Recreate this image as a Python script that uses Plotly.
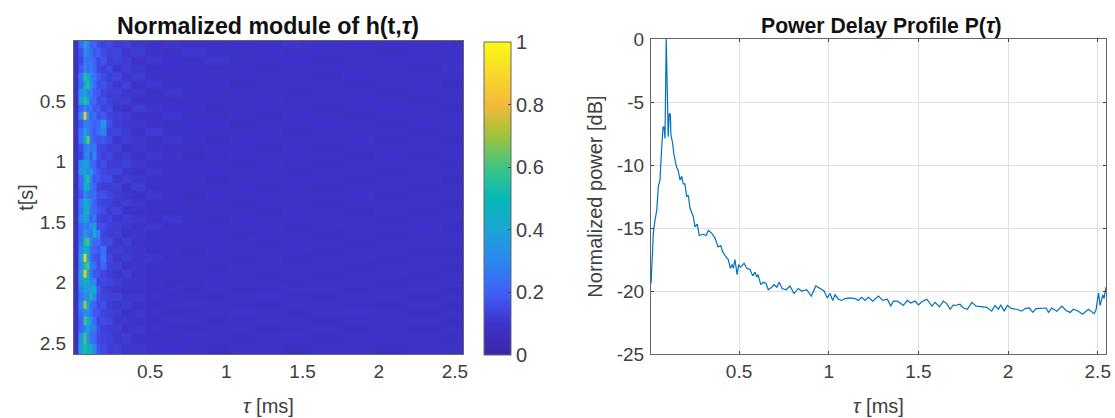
import plotly.graph_objects as go

# ---- heat map: tau [ms], t [s], module in percent of the maximum
tau_h = [0.01,0.05,0.07,0.09,0.11,0.13,0.16,0.19,0.23,0.28,0.34,0.42,0.52,0.64,0.78,0.94,1.1,1.28,1.46,1.66,1.86,2.08,2.3,2.52]
t_h = [0.02,0.105,0.17,0.235,0.30,0.365,0.43,0.495,0.56,0.625,0.69,0.755,0.82,0.885,0.95,1.015,1.08,1.145,1.21,1.275,1.34,1.405,1.47,1.535,1.60,1.665,1.73,1.795,1.86,1.925,1.99,2.055,2.12,2.185,2.25,2.315,2.38,2.445,2.56]
h_pct = [
[10,22,38,30,20,22,16,14,15,12,13,11,10,11,9,10,10,9,11,9,10,10,9,10],
[9,17,32,27,24,18,20,15,13,14,11,12,10,9,11,10,9,10,9,10,9,8,10,9],
[8,15,28,24,26,20,15,17,12,13,12,10,11,10,9,11,9,9,10,8,9,10,9,9],
[8,18,30,22,28,22,14,13,15,11,12,11,9,10,10,9,10,8,9,10,9,9,8,10],
[9,26,55,44,30,26,18,15,13,14,11,12,10,9,10,9,9,10,9,8,10,9,9,9],
[8,22,48,55,34,24,16,17,14,11,13,10,11,10,9,10,8,9,10,9,8,9,10,8],
[9,32,40,28,30,20,18,14,12,13,11,11,9,11,10,9,10,9,8,9,9,8,9,9],
[8,38,55,42,24,22,15,16,13,12,12,10,10,9,9,10,9,10,9,9,10,9,8,9],
[8,20,30,24,26,17,19,14,15,11,10,12,11,10,10,8,9,9,9,8,9,10,9,8],
[8,30,82,35,20,24,16,18,14,13,12,10,9,11,9,9,10,8,10,9,8,9,9,9],
[8,18,30,26,24,20,22,34,16,12,11,11,10,9,10,10,8,9,9,10,9,8,10,9],
[9,24,40,28,22,18,24,28,13,14,12,10,12,10,9,9,9,10,8,9,9,9,8,9],
[8,26,44,65,26,19,17,18,15,11,12,11,9,11,10,8,10,9,9,9,10,8,9,8],
[8,16,26,30,25,27,15,14,12,13,10,11,10,9,9,10,9,8,10,8,9,9,9,9],
[9,14,28,30,18,30,16,13,14,11,12,10,11,10,8,9,10,9,9,9,8,10,8,9],
[9,32,40,36,24,20,14,16,12,12,13,11,9,9,10,9,8,10,9,8,9,9,9,8],
[8,34,42,30,36,22,17,14,13,14,11,10,11,10,9,10,9,9,8,10,9,8,9,9],
[8,24,38,55,30,18,19,15,15,11,12,11,10,9,10,8,9,9,10,9,8,9,10,8],
[8,22,46,50,26,21,14,13,12,13,10,12,9,10,9,9,10,8,9,8,9,9,8,9],
[9,18,30,26,22,24,16,17,14,12,11,10,11,9,8,10,9,9,9,9,10,8,9,9],
[8,28,45,42,28,20,15,14,13,11,12,11,10,10,9,9,8,10,9,8,9,9,9,8],
[8,26,40,46,24,22,18,15,12,14,10,10,9,9,10,9,9,8,10,9,8,10,8,9],
[9,30,45,34,20,26,14,13,14,11,12,11,10,11,9,8,10,9,9,9,9,8,9,9],
[8,22,30,24,32,36,16,16,13,12,11,10,11,9,9,10,9,9,8,10,9,9,10,8],
[8,24,35,30,24,40,28,14,12,13,10,11,9,10,10,9,8,10,9,8,9,8,9,9],
[9,26,55,60,30,22,22,15,15,11,12,10,10,9,9,9,10,8,9,9,8,9,9,9],
[8,30,50,42,24,20,18,24,12,12,11,11,9,10,8,10,9,9,10,8,9,9,8,8],
[8,38,85,48,22,18,16,26,14,11,12,10,11,9,9,9,8,10,8,9,10,8,9,9],
[8,32,55,60,28,24,15,20,13,13,10,11,10,10,9,8,9,9,9,9,8,9,9,8],
[9,40,80,52,26,18,17,14,12,11,12,10,9,9,10,9,10,8,9,8,9,10,8,9],
[8,36,50,40,30,30,14,15,14,12,11,11,10,8,9,10,9,9,8,9,9,8,9,9],
[8,28,40,34,38,46,18,13,12,11,10,10,9,10,8,9,8,9,10,9,8,9,9,8],
[9,24,35,30,52,30,16,14,13,13,11,11,10,9,9,8,9,10,9,8,9,9,8,9],
[9,30,70,46,24,20,15,16,12,11,12,10,9,9,10,9,9,8,9,9,9,8,9,8],
[8,24,35,30,26,18,17,14,13,12,10,11,10,8,9,9,10,9,8,9,10,9,8,9],
[9,20,60,48,36,22,14,15,14,11,11,10,9,10,9,8,9,9,9,8,9,9,9,8],
[8,22,30,40,28,26,16,13,12,12,10,11,10,9,8,9,9,8,9,9,8,9,8,9],
[9,36,60,34,26,22,15,14,13,11,12,10,9,9,10,9,8,9,10,8,9,9,9,8],
[9,38,55,50,42,30,17,15,12,13,11,11,10,10,9,8,9,9,8,9,9,8,9,9],
]

# ---- power delay profile
tau_p = [0.0095,0.022,0.031,0.041,0.05,0.059,0.068,0.076,0.082,0.087,0.094,0.105,0.111,0.117,0.12,0.13,0.137,0.152,0.16,0.171,0.18,0.189,0.198,0.208,0.217,0.226,0.245,0.254,0.267,0.278,0.299,0.316,0.329,0.347,0.366,0.383,0.398,0.409,0.427,0.44,0.451,0.461,0.468,0.477,0.489,0.498,0.509,0.528,0.543,0.561,0.576,0.589,0.598,0.606,0.621,0.635,0.65,0.663,0.682,0.695,0.71,0.724,0.74,0.762,0.784,0.806,0.83,0.849,0.877,0.903,0.928,0.95,0.974,0.992,1.007,1.022,1.035,1.054,1.072,1.09,1.118,1.147,1.165,1.184,1.203,1.221,1.245,1.277,1.301,1.327,1.346,1.36,1.383,1.398,1.416,1.438,1.457,1.481,1.5,1.519,1.547,1.575,1.593,1.617,1.639,1.658,1.677,1.695,1.705,1.732,1.751,1.773,1.798,1.822,1.853,1.881,1.909,1.927,1.946,1.959,1.978,1.996,2.02,2.048,2.076,2.095,2.119,2.138,2.156,2.188,2.212,2.225,2.244,2.272,2.3,2.323,2.346,2.364,2.392,2.415,2.448,2.48,2.491,2.504,2.513,2.528,2.535,2.546]
p_db = [-19.4,-15.4,-14.4,-13.6,-11.7,-11.2,-8.8,-7.0,-7.0,-7.9,0.0,-7.75,-5.9,-6.0,-7.6,-8.3,-9.2,-10.2,-10.4,-11.2,-10.9,-11.5,-11.5,-12.5,-12.4,-13.4,-14.1,-14.9,-14.7,-15.6,-15.5,-15.6,-15.2,-15.4,-15.8,-16.5,-16.4,-16.9,-17.3,-17.5,-18.2,-17.9,-18.2,-17.5,-18.7,-17.9,-18.1,-17.8,-18.2,-18.3,-18.8,-18.5,-18.9,-18.7,-19.5,-19.3,-19.4,-19.9,-19.7,-19.5,-19.7,-19.3,-19.8,-19.9,-19.6,-20.2,-19.8,-20.0,-19.9,-20.4,-19.6,-19.8,-20.0,-20.55,-20.2,-20.75,-20.3,-20.65,-20.75,-20.6,-20.55,-20.6,-20.75,-20.5,-20.75,-20.5,-20.8,-20.4,-20.75,-20.65,-21.2,-20.8,-20.8,-20.95,-21.15,-20.75,-20.95,-20.8,-21.1,-20.85,-20.65,-21.2,-20.9,-21.25,-20.8,-21.0,-21.45,-21.1,-21.15,-21.05,-21.35,-21.45,-20.9,-21.2,-21.25,-21.3,-21.6,-21.15,-21.45,-21.1,-21.6,-21.15,-21.4,-21.45,-21.6,-21.4,-21.35,-21.7,-21.4,-21.4,-21.35,-21.7,-21.35,-21.6,-21.2,-21.55,-21.7,-21.45,-21.6,-21.85,-21.45,-21.8,-21.45,-20.15,-21.15,-20.3,-20.6,-19.7]

# ---- ticks
tau_ticks = [0.5, 1, 1.5, 2, 2.5]
tau_labels = ["0.5", "1", "1.5", "2", "2.5"]
t_ticks = [0.5, 1, 1.5, 2, 2.5]
t_labels = ["0.5", "1", "1.5", "2", "2.5"]
db_ticks = [0, -5, -10, -15, -20, -25]
db_labels = ["0", "-5", "-10", "-15", "-20", "-25"]
cb_ticks = [0, 0.2, 0.4, 0.6, 0.8, 1]
cb_labels = ["0", "0.2", "0.4", "0.6", "0.8", "1"]

W, H = 1115, 418
FONT = "Liberation Sans"
INK = "#404040"
parula = [[0, "#3e26a8"], [0.1, "#3d33cc"], [0.2, "#4060f8"], [0.3, "#2b88f0"], [0.4, "#1aa5d5"],
          [0.5, "#05b8b8"], [0.6, "#3ec486"], [0.7, "#a0c23c"], [0.8, "#f6b93a"], [0.9, "#f8d82a"], [1, "#f9fb15"]]

z = [[v / 100 for v in row] for row in h_pct]

fig = go.Figure()
fig.add_trace(go.Heatmap(
    x=tau_h, y=t_h, z=z, zmin=0, zmax=1, colorscale=parula, xaxis="x", yaxis="y",
    colorbar=dict(x=484/W, xanchor="left", y=(H-355)/H, yanchor="bottom", yref="paper", len=313/H, lenmode="fraction",
                  thickness=27, thicknessmode="pixels", xpad=0, ypad=0, outlinewidth=1, outlinecolor="#666666",
                  ticks="inside", ticklen=3, tickwidth=1, tickcolor=INK, tickvals=cb_ticks, ticktext=cb_labels,
                  tickfont=dict(size=20, color=INK, family=FONT)),
))
fig.add_trace(go.Scatter(x=tau_p, y=p_db, mode="lines", line=dict(color="#0072BD", width=1.2), xaxis="x2", yaxis="y2",
                         showlegend=False))

common = dict(showline=True, linecolor="#666666", linewidth=1, mirror="ticks", ticks="inside", ticklen=3, tickwidth=1,
              tickcolor="#404040", zeroline=False, automargin=False, tickfont=dict(size=19, color=INK, family=FONT))
fig.update_layout(
    width=W, height=H, margin=dict(l=0, r=0, t=0, b=0, autoexpand=False), paper_bgcolor="white", plot_bgcolor="white",
    showlegend=False, font=dict(family=FONT, color=INK),
    xaxis=dict(domain=[74/W, 463/W], range=[0.0, 2.553], tickvals=tau_ticks, ticktext=tau_labels, showgrid=False,
               title=dict(text="<i>τ</i> [ms]", font=dict(size=20, color=INK), standoff=18), **common),
    yaxis=dict(domain=[1-354/H, 1-41/H], range=[2.59, 0.004], tickvals=t_ticks, ticktext=t_labels, showgrid=False,
               ticklabelstandoff=3,
               title=dict(text="t[s]", font=dict(size=20, color=INK), standoff=0), **common),
    xaxis2=dict(domain=[651/W, 1106/W], range=[0.009, 2.546], tickvals=tau_ticks, ticktext=tau_labels, anchor="y2",
                showgrid=True, gridcolor="#dfdfdf", gridwidth=1,
                title=dict(text="<i>τ</i> [ms]", font=dict(size=20, color=INK), standoff=18), **common),
    yaxis2=dict(domain=[1-354/H, 1-39/H], range=[-25, 0], tickvals=db_ticks, ticktext=db_labels, anchor="x2",
                showgrid=True, gridcolor="#dfdfdf", gridwidth=1, ticklabelstandoff=2,
                title=dict(text="Normalized power [dB]", font=dict(size=20, color=INK), standoff=8), **common),
    annotations=[
        dict(text="<b>Normalized module of h(t,<i>τ</i>)</b>", x=268/W, y=1-26/H, xref="paper", yref="paper", showarrow=False,
             xanchor="center", yanchor="middle", font=dict(size=23.2, color="#111111", family=FONT)),
        dict(text="<b>Power Delay Profile P(<i>τ</i>)</b>", x=881/W, y=1-26/H, xref="paper", yref="paper", showarrow=False,
             xanchor="center", yanchor="middle", font=dict(size=21.2, color="#111111", family=FONT)),
    ],
)
fig.write_html("out.html", post_script="document.body.style.margin='0';", config={"displayModeBar": False})
